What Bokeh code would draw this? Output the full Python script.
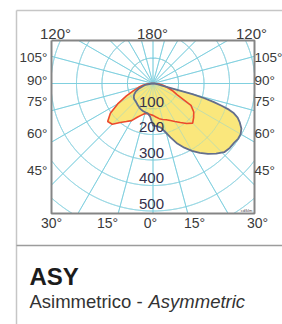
import numpy as np
from bokeh.plotting import figure
from bokeh.models import Range1d
from bokeh.core.properties import value
from bokeh.embed import file_html
from bokeh.resources import INLINE

# ---------------- data ----------------
# C0-C180 plane (red outline), angle from nadir in degrees, intensity in cd/klm
red_angles = [-90, -85, -80, -75, -70, -65, -60, -55, -50, -45, -40, -35, -30, -25, -20, -15, -10, -5,
              0, 5, 10, 15, 20, 25, 30, 35, 40, 45, 50, 55, 60, 65, 70, 75, 80, 85, 90]
red_values = [8, 22, 40, 58, 81, 115, 160, 204, 232, 226, 200, 182, 168, 146, 132, 122, 120, 122,
              125, 132, 140, 146, 151, 160, 172, 187, 205, 220, 208, 195, 172, 105, 80, 57, 40, 24, 8]

# C90-C270 plane (grey-blue outline)
asym_angles = [-90, -80, -70, -65, -60, -55, -50, -45, -40, -35, -30, -25, -20, -15, -10, -5,
               0, 5, 10, 14, 18, 22, 26, 30, 34, 38, 42, 46, 50, 54, 57, 60, 63, 66, 68, 70,
               71, 72, 73, 74, 75, 76, 80, 85, 90]
asym_values = [5, 30, 60, 75, 85, 92, 96, 97, 100, 104, 108, 112, 115, 117, 119, 130,
               165, 168, 176, 195, 222, 254, 280, 305, 328, 350, 370, 388, 393, 394, 398, 397, 389, 372, 358, 335,
               315, 285, 250, 210, 160, 40, 20, 12, 6]

radial_ticks = [100, 200, 300, 400, 500]
grid_radii = [100, 200, 300, 400, 500, 600, 700]
ray_step = 15

top_labels = ["120°", "180°", "120°"]
side_labels = ["105°", "90°", "75°", "60°", "45°"]
bottom_labels = ["30°", "15°", "0°", "15°", "30°"]
title = "ASY"
subtitle_it = "Asimmetrico - "
subtitle_en = "Asymmetric"

# ---------------- geometry ----------------
W, H = 282, 324
s = 0.255                 # px per cd
cx, cy = 152.5, 83.0      # polar centre in figure px


def P(xp, yp):
    """picture px -> data coords"""
    return (xp - cx) / s, -(yp - cy) / s


p = figure(width=W, height=H, output_backend="svg", toolbar_location=None,
           x_range=Range1d(-cx / s, (W - cx) / s), y_range=Range1d(-(H - cy) / s, cy / s),
           min_border=0, outline_line_color=None, background_fill_color="white")
p.axis.visible = False
p.grid.visible = False

FONT = value("Liberation Sans")

# outer card frame
x0, y0 = P(16, 10)
x1, y1 = P(284, 326)
p.line([x0, x1], [y0, y0], line_color="#c6c6c6", line_width=1.5)
p.line([x0, x0], [y0, y1], line_color="#c6c6c6", line_width=1.5)
_, yd = P(0, 245)
p.line([x0, x1], [yd, yd], line_color="#9c9c9c", line_width=1.5)

# inner plot rectangle
xl, yt = P(51, 40)
xr, yb = P(254, 213)

GRID = "#80d0df"
# grid circles (clipped)
th = np.radians(np.arange(0, 360.05, 0.1))
cxs, cys = [], []
for r in grid_radii:
    gx = r * np.sin(th)
    gy = -r * np.cos(th)
    m = (gx < xl) | (gx > xr) | (gy > yt) | (gy < yb)
    cxs.append(np.where(m, np.nan, gx))
    cys.append(np.where(m, np.nan, gy))

# rays
rx, ry = [], []
for a in range(0, 360, ray_step):
    t = np.radians(a)
    dx, dy = np.sin(t), -np.cos(t)
    cands = []
    if dx > 1e-9: cands.append(xr / dx)
    if dx < -1e-9: cands.append(xl / dx)
    if dy > 1e-9: cands.append(yt / dy)
    if dy < -1e-9: cands.append(yb / dy)
    k = min(cands)
    rx.append([0, k * dx]); ry.append([0, k * dy])


def draw_grid(alpha):
    for gx, gy in zip(cxs, cys):
        p.line(gx, gy, line_color=GRID, line_width=1, line_alpha=alpha)
    p.multi_line(rx, ry, line_color=GRID, line_width=1, line_alpha=alpha)


def polar(angles, vals):
    a = np.radians(np.array(angles, dtype=float))
    v = np.array(vals, dtype=float)
    xs = np.concatenate([[0], v * np.sin(a), [0]])
    ys = np.concatenate([[0], -v * np.cos(a), [0]])
    return xs, ys


ax_, ay_ = polar(asym_angles, asym_values)
rdx, rdy = polar(red_angles, red_values)

draw_grid(1.0)
YEL = "#fae77c"
p.patch(ax_, ay_, fill_color=YEL, line_color=None)
p.patch(rdx, rdy, fill_color=YEL, line_color=None)
draw_grid(0.45)   # grid shows faintly through the filled lobes
p.line(rdx, rdy, line_color="#ec4a2c", line_width=1.6)
p.line(ax_, ay_, line_color="#636e8c", line_width=1.8)

# frame of inner plot
p.line([xl, xr, xr, xl, xl], [yt, yt, yb, yb, yt], line_color="#858585", line_width=2)

# radial labels
p.text(x=[0] * len(radial_ticks), y=[-r for r in radial_ticks], text=[str(r) for r in radial_ticks],
       text_font=FONT, text_font_size="15px", text_color="#35304a",
       text_align="center", text_baseline="middle", x_offset=-1.5, y_offset=-7.5)

# tiny unit mark
ux, uy = P(246, 210)
p.text(x=[ux], y=[uy], text=["cd/klm"], text_font=FONT, text_font_size="4px",
       text_color="#444", text_align="center", text_baseline="middle")

# angle labels
LBL = "#3a3a3a"
tx = [55, 152, 251]
pts = [P(x, 32.5) for x in tx]
p.text(x=[q[0] for q in pts], y=[q[1] for q in pts], text=top_labels, text_font=FONT,
       text_font_size="15px", text_color=LBL, text_align="center", text_baseline="middle")

sy = [57, 80, 101, 133, 170]
pl = [P(47, y) for y in sy]
p.text(x=[q[0] for q in pl], y=[q[1] for q in pl], text=side_labels, text_font=FONT,
       text_font_size="13.5px", text_color=LBL, text_align="right", text_baseline="middle")
pr = [P(254, y) for y in sy]
p.text(x=[q[0] for q in pr], y=[q[1] for q in pr], text=side_labels, text_font=FONT,
       text_font_size="13.5px", text_color=LBL, text_align="left", text_baseline="middle")

bx = [51, 107, 150, 194, 257]
pb = [P(x, 222.5) for x in bx]
p.text(x=[q[0] for q in pb], y=[q[1] for q in pb], text=bottom_labels, text_font=FONT,
       text_font_size="14px", text_color=LBL, text_align="center", text_baseline="middle")

# caption
tx_, ty_ = P(29, 276)
p.text(x=[tx_], y=[ty_], text=[title], text_font=FONT, text_font_size="24px",
       text_font_style="bold", text_color="#1c1c1c", text_align="left", text_baseline="middle")
sx1, sy1 = P(29, 301)
p.text(x=[sx1], y=[sy1], text=[subtitle_it], text_font=FONT, text_font_size="18.5px",
       text_color="#333333", text_align="left", text_baseline="middle")
sx2, sy2 = P(148, 301)
p.text(x=[sx2], y=[sy2], text=[subtitle_en], text_font=FONT, text_font_size="18.5px",
       text_font_style="italic", text_color="#333333", text_align="left", text_baseline="middle")

open("out.html", "w").write(file_html(p, INLINE))
